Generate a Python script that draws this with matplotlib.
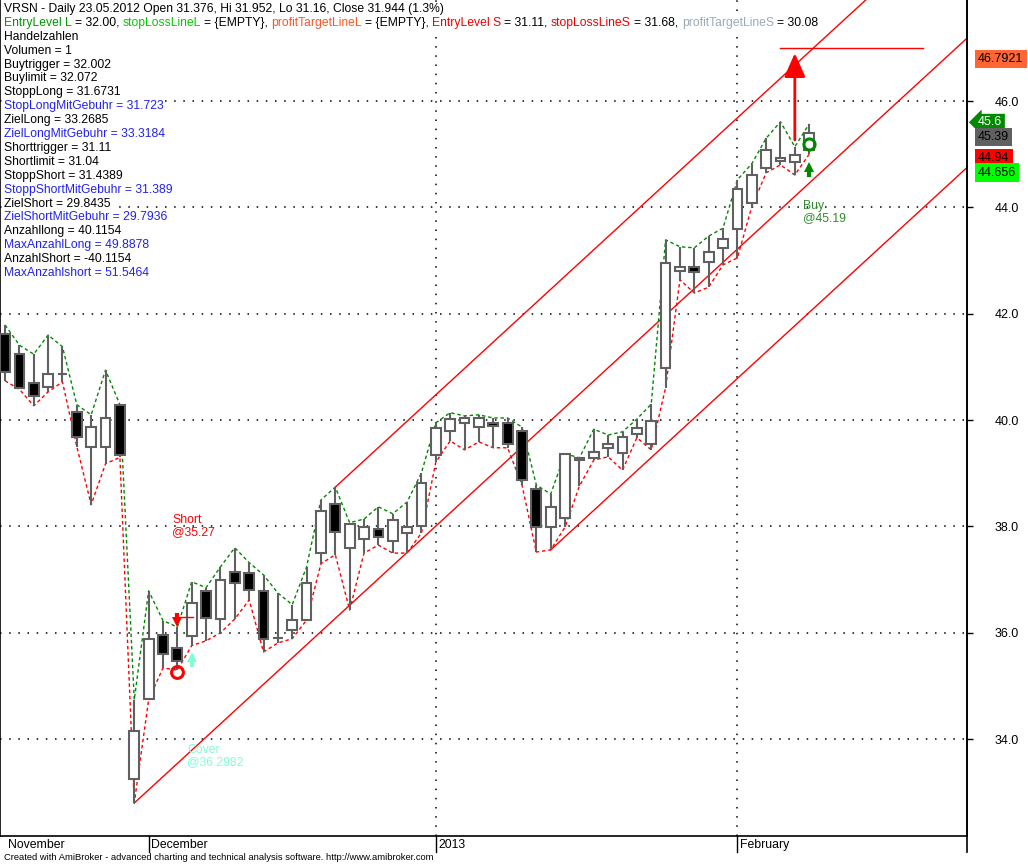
import numpy as np
import matplotlib
matplotlib.use('Agg')
import matplotlib.pyplot as plt
from matplotlib.transforms import blended_transform_factory

plt.rcParams['font.family'] = ['Liberation Sans', 'DejaVu Sans']

# --- data (one bar per trading day) ---
opens = [41.62, 41.24, 40.70, 40.62, 40.87, 40.15, 39.50, 39.50, 40.29, 33.26,
         34.76, 35.96, 35.72, 35.94, 36.79, 36.26, 37.15, 37.13, 36.79, 35.91,
         36.06, 36.24, 37.50, 38.42, 37.60, 37.77, 37.95, 37.73, 37.88, 38.01,
         39.35, 39.80, 39.95, 39.87, 39.95, 39.95, 39.80, 38.71, 37.99, 38.16,
         39.29, 39.29, 39.48, 39.38, 39.74, 39.55, 40.98, 42.80, 42.88, 42.97,
         43.24, 43.59, 44.08, 44.74, 44.87, 44.85, 45.08]
highs = [41.79, 41.41, 41.24, 41.60, 41.38, 40.29, 40.10, 40.94, 40.29, 34.74,
         36.79, 36.23, 36.11, 36.96, 36.85, 37.24, 37.60, 37.32, 37.09, 36.75,
         36.53, 37.24, 38.50, 38.74, 38.07, 38.14, 38.37, 38.24, 38.46, 39.01,
         39.95, 40.14, 40.08, 40.10, 40.04, 40.04, 39.87, 38.78, 38.61, 39.37,
         39.29, 39.83, 39.72, 39.78, 40.02, 40.30, 43.39, 43.26, 43.24, 43.46,
         43.61, 44.52, 44.82, 45.30, 45.61, 45.14, 45.57]
lows = [40.74, 40.58, 40.27, 40.53, 40.72, 39.50, 38.41, 39.18, 39.30, 32.80,
        34.74, 35.34, 35.30, 35.76, 35.85, 36.00, 36.26, 36.62, 35.64, 35.81,
        35.89, 36.24, 37.30, 37.47, 36.43, 37.50, 37.65, 37.50, 37.50, 37.88,
        39.21, 39.61, 39.44, 39.59, 39.48, 39.48, 38.78, 37.52, 37.56, 37.99,
        38.76, 39.25, 39.31, 39.06, 39.67, 39.44, 40.61, 42.64, 42.39, 42.50,
        42.92, 43.05, 44.01, 44.65, 44.80, 44.61, 45.00]
closes = [40.91, 40.61, 40.45, 40.87, 40.87, 39.68, 39.87, 40.04, 39.35, 34.16,
          35.89, 35.61, 35.47, 36.56, 36.28, 37.00, 36.94, 36.81, 35.89, 35.91,
          36.24, 36.94, 38.29, 37.90, 38.05, 37.99, 37.80, 38.12, 37.99, 38.82,
          39.85, 40.02, 40.04, 40.04, 39.89, 39.55, 38.88, 37.99, 38.37, 39.37,
          39.25, 39.40, 39.55, 39.68, 39.85, 39.98, 42.95, 42.88, 42.79, 43.16,
          43.41, 44.35, 44.61, 45.08, 44.93, 44.98, 45.39]

month_labels = ['November', 'December', '2013', 'February']
month_bars = [0, 10, 30, 51]
grid_bars = [30, 51]

# trend channel: start bar, start price, slope per bar
trend_start = [23, 9, 38]
trend_price = [38.74, 32.80, 37.56]
trend_slope = 0.248

# signals
short_bar, short_price, short_arrow = 12, 35.27, (36.38, 36.13)
cover_bar, cover_arrow = 13, (35.36, 35.62)
buy_bar, buy_price, buy_arrow = 56, 45.19, (44.57, 44.83)
target_bar, target_arrow = 55, (45.27, 46.90)
target_line = (54, 63.9, 47.0)
short_tick = (12, 13.1, 36.30)

axis_labels = [('46.7921', 46.7921, '#ff6633', 'black'),
               ('45.6', 45.6, '#008a00', 'white'),
               ('45.39', 45.32, '#606060', 'black'),
               ('44.94', 44.93, '#ff0000', 'black'),
               ('44.656', 44.656, '#00ff00', 'black')]

header = [
    [('VRSN - Daily 23.05.2012 Open 31.376, Hi 31.952, Lo 31.16, Close 31.944 (1.3%)', 'black')],
    [('EntryLevel L', '#009900'), (' = 32.00, ', 'black'), ('stopLossLineL', '#00cc00'),
     (' = {EMPTY}, ', 'black'), ('profitTargetLineL', '#ff5522'), (' = {EMPTY}, ', 'black'),
     ('EntryLevel S', '#ee0000'), (' = 31.11, ', 'black'), ('stopLossLineS', '#ee0000'),
     (' = 31.68, ', 'black'), ('profitTargetLineS', '#99aabb'), (' = 30.08', 'black')],
    [('Handelzahlen', 'black')],
    [('Volumen = 1', 'black')],
    [('Buytrigger = 32.002', 'black')],
    [('Buylimit = 32.072', 'black')],
    [('StoppLong = 31.6731', 'black')],
    [('StopLongMitGebuhr = 31.723', '#2222ee')],
    [('ZielLong = 33.2685', 'black')],
    [('ZielLongMitGebuhr = 33.3184', '#2222ee')],
    [('Shorttrigger = 31.11', 'black')],
    [('Shortlimit = 31.04', 'black')],
    [('StoppShort = 31.4389', 'black')],
    [('StoppShortMitGebuhr = 31.389', '#2222ee')],
    [('ZielShort = 29.8435', 'black')],
    [('ZielShortMitGebuhr = 29.7936', '#2222ee')],
    [('Anzahllong = 40.1154', 'black')],
    [('MaxAnzahlLong = 49.8878', '#2222ee')],
    [('AnzahlShort = -40.1154', 'black')],
    [('MaxAnzahlshort = 51.5464', '#2222ee')],
]

W, H = 1028, 865
fig = plt.figure(figsize=(W / 100, H / 100), dpi=100)
ax = fig.add_axes([0, 1 - 836 / H, 967 / W, 836 / H])
ax.set_xlim(-0.35, 66.99)
ax.set_ylim(32.18, 47.90)

x = np.arange(len(opens))
o = np.array(opens); c = np.array(closes)
hi = np.array(highs); lo = np.array(lows)

# grid
for lvl in range(34, 47, 2):
    ax.axhline(lvl, color='black', lw=1.1, ls=(0, (1, 5)), zorder=0)
for b in grid_bars:
    ax.axvline(b, color='black', lw=1.1, ls=(0, (1, 5)), zorder=0)

# trend lines
for s, p in zip(trend_start, trend_price):
    xe = np.array([s, 70])
    ax.plot(xe, p + trend_slope * (xe - s), color='red', lw=1, zorder=2)

# envelope dashes
ax.plot(x, hi, color='#008800', lw=1, ls=(0, (2.5, 2)), zorder=3)
ax.plot(x, lo, color='red', lw=1, ls=(0, (2.5, 2)), zorder=3)

# candles
ax.vlines(x, lo, hi, color='#606060', lw=1.5, zorder=4)
up = c >= o
ax.bar(x[up], c[up] - o[up], bottom=o[up], width=0.68, color='white',
       edgecolor='#606060', lw=1.5, zorder=5)
ax.bar(x[~up], o[~up] - c[~up], bottom=c[~up], width=0.68, color='black',
       edgecolor='#606060', lw=1.5, zorder=5)

# signals: shaft + triangular head
px = (47.90 - 32.18) / 836

def sig_arrow(bx, tail, tip, col):
    d = 1 if tip > tail else -1
    ax.plot([bx, bx], [tail, tip - d * 3 * px], color=col, lw=3, solid_capstyle='butt', zorder=7)
    ax.plot(bx, tip - d * 3.5 * px, '^' if d > 0 else 'v', color=col, ms=7, mew=0, zorder=7)

sig_arrow(short_bar, short_arrow[0], short_arrow[1], 'red')
sig_arrow(cover_bar, cover_arrow[0], cover_arrow[1], '#7fffd4')
sig_arrow(buy_bar, buy_arrow[0], buy_arrow[1], '#008800')
ax.plot([short_tick[0], short_tick[1]], [short_tick[2]] * 2, color='red', lw=1, zorder=7)
ax.plot(short_bar, short_price, 'o', mfc='none', mec='red', ms=8.5, mew=2.2, zorder=8)
ax.plot(buy_bar, buy_price, 'o', mfc='none', mec='#008800', ms=8, mew=2.2, zorder=8)
ax.annotate('', xy=(target_bar, target_arrow[1]), xytext=(target_bar, target_arrow[0]),
            arrowprops=dict(arrowstyle='-|>,head_length=0.9,head_width=0.4', color='red',
                            lw=2, mutation_scale=16, shrinkA=0, shrinkB=0), zorder=7)
ax.plot([target_line[0], target_line[1]], [target_line[2]] * 2, color='red', lw=1, zorder=7)

ax.text(short_bar - 0.35, 38.24, 'Short\n@%.2f' % short_price, color='red', fontsize=8.8,
        va='top', ha='left', linespacing=1.05, zorder=9)
ax.text(cover_bar - 0.33, 33.91, 'Cover\n@36.2982', color='#7fffd4', fontsize=8.8,
        va='top', ha='left', linespacing=1.05, zorder=9)
ax.text(buy_bar - 0.43, 44.14, 'Buy\n@%.2f' % buy_price, color='#2e8b2e', fontsize=8.8,
        va='top', ha='left', linespacing=1.05, zorder=9)

# axes styling
ax.spines['top'].set_visible(False)
for sp in ['left', 'bottom', 'right']:
    ax.spines[sp].set_linewidth(1.2)
ax.yaxis.tick_right()
ax.set_yticks(range(34, 47, 2))
ax.set_yticklabels(['%.1f' % v for v in range(34, 47, 2)], fontsize=9)
ax.tick_params(axis='y', direction='out', length=4, width=1, pad=16)
ax.set_xticks([])

tb = blended_transform_factory(ax.transData, ax.transAxes)
for lab, b in zip(month_labels, month_bars):
    if b > 0:
        ax.plot([b, b], [0, -16 / 836], color='black', lw=1, transform=tb, clip_on=False)
    ax.text(b + 0.2, -9 / 836, lab, transform=tb, fontsize=8.8, va='center', ha='left')

# right edge extension and footer
fig.add_artist(plt.Line2D([967 / W, 967 / W], [1 - 852 / H, 1], color='black', lw=1.2))
fig.text(4 / W, 1 - 858 / H, 'Created with AmiBroker - advanced charting and technical analysis software. http://www.amibroker.com',
         fontsize=6.75, va='center', ha='left')

# price labels on the right axis
ty = blended_transform_factory(ax.transAxes, ax.transData)
for txt, yv, bg, fg in axis_labels:
    style = 'larrow,pad=0.2' if txt == '45.6' else 'square,pad=0.25'
    ax.text(1.0115, yv, txt, transform=ty, fontsize=9, color=fg, va='center', ha='left',
            bbox=dict(boxstyle=style, fc=bg, ec='none'), clip_on=False, zorder=10)

# header text with coloured parts on white background
renderer = fig.canvas.get_renderer()

def text_w(s, fs):
    t = fig.text(0, 0, s, fontsize=fs)
    w = t.get_window_extent(renderer).width
    t.remove()
    return w

fs = 8.7
sp_w = text_w('a a', fs) - text_w('aa', fs)

def pos(s):
    r = s.rstrip()
    return (text_w(r, fs) if r else 0) + (len(s) - len(r)) * sp_w

for k, parts in enumerate(header):
    yy = 1 - (9 + 13.9 * k) / H
    prefix = ''
    for s, col in parts:
        lead = len(s) - len(s.lstrip())
        xp = 4 + pos(prefix + s[:lead])
        fig.text(xp / W, yy, s.strip(), fontsize=fs, color=col, va='center', ha='left',
                 bbox=dict(boxstyle='square,pad=0.12', fc='white', ec='none'))
        prefix += s

fig.savefig('out.png', dpi=100)
